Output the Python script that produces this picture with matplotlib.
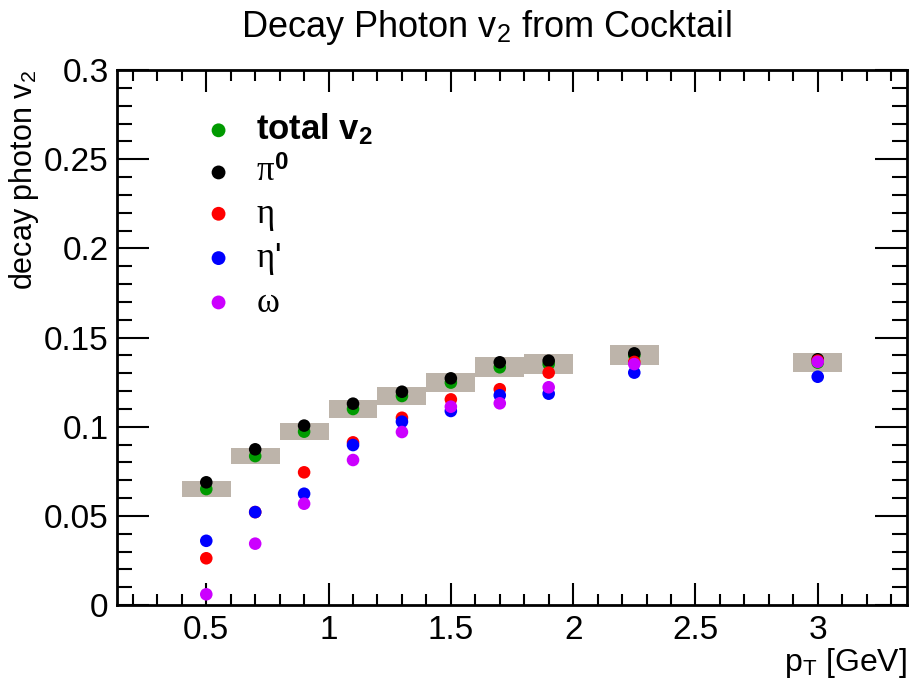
import numpy as np
import matplotlib
matplotlib.use('Agg')
import matplotlib.pyplot as plt
from matplotlib.ticker import MultipleLocator

plt.rcParams['font.family'] = ['Liberation Sans', 'DejaVu Sans']
plt.rcParams['mathtext.fontset'] = 'custom'
plt.rcParams['mathtext.rm'] = 'Liberation Sans'
plt.rcParams['mathtext.it'] = 'Liberation Serif'
plt.rcParams['mathtext.bf'] = 'Liberation Sans:bold'

# pT bin centres [GeV]
pt = [0.5, 0.7, 0.9, 1.1, 1.3, 1.5, 1.7, 1.9, 2.25, 3.0]
# decay photon v2 per parent
v2_total = [0.0650, 0.0835, 0.0972, 0.1099, 0.1172, 0.1247, 0.1333, 0.1351, 0.1400, 0.1359]
v2_pi0   = [0.0688, 0.0873, 0.1006, 0.1129, 0.1196, 0.1271, 0.1361, 0.1370, 0.1411, 0.1378]
v2_eta   = [0.0262, 0.0521, 0.0744, 0.0912, 0.1050, 0.1153, 0.1210, 0.1303, 0.1363, 0.1370]
v2_etap  = [0.0360, 0.0521, 0.0624, 0.0897, 0.1028, 0.1088, 0.1176, 0.1185, 0.1303, 0.1280]
v2_omega = [0.0060, 0.0344, 0.0568, 0.0813, 0.0970, 0.1112, 0.1131, 0.1221, 0.1351, 0.1364]
# systematic band on total (half height)
sys_err = [0.0044, 0.0047, 0.0047, 0.0049, 0.0050, 0.0052, 0.0055, 0.0055, 0.0056, 0.0052]
bin_w = 0.2

fig = plt.figure(figsize=(9.12, 6.83), dpi=100)
ax = fig.add_axes([0.1283, 0.1142, 0.8662, 0.7833])

lo = np.array(v2_total) - np.array(sys_err)
ax.bar(pt, 2 * np.array(sys_err), bottom=lo, width=bin_w, color='#bdb4aa', zorder=1)

ms = 82
series = [
    (v2_total, '#009a00', r'$\mathbf{total\ v_2}$'),
    (v2_pi0, 'black', r'$\pi^{\mathbf{0}}$'),
    (v2_eta, '#ff0000', r'$\eta$'),
    (v2_etap, '#0000ff', r"$\eta$'"),
    (v2_omega, '#cc00ff', r'$\omega$'),
]
for i, (vals, col, lab) in enumerate(series):
    ax.scatter(pt, vals, s=ms, color=col, edgecolors='none', label=lab, zorder=3 + i)

ax.set_xlim(0.135, 3.365)
ax.set_ylim(0, 0.3)
ax.xaxis.set_minor_locator(MultipleLocator(0.1))
ax.yaxis.set_minor_locator(MultipleLocator(0.01))
ax.set_xticks([0.5, 1, 1.5, 2, 2.5, 3])
ax.set_xticklabels(['0.5', '1', '1.5', '2', '2.5', '3'])
ax.set_yticks([0, 0.05, 0.1, 0.15, 0.2, 0.25, 0.3])
ax.set_yticklabels(['0', '0.05', '0.1', '0.15', '0.2', '0.25', '0.3'])

ax.tick_params(axis='x', which='major', direction='in', length=16, width=1.5,
               top=True, labelsize=24, pad=7)
ax.tick_params(axis='x', which='minor', direction='in', length=8, width=1.5, top=True)
ax.tick_params(axis='y', which='major', direction='in', length=23, width=1.5,
               right=True, labelsize=24, pad=6)
ax.tick_params(axis='y', which='minor', direction='in', length=11, width=1.5, right=True)
for sp in ax.spines.values():
    sp.set_linewidth(2)

ax.set_title(r'Decay Photon v$_2$ from Cocktail', fontsize=26, pad=24, x=0.468)
ax.set_ylabel(r'decay photon v$_2$', fontsize=22, loc='top', labelpad=2)
ax.set_xlabel(r'p$_\mathrm{T}$ [GeV]', fontsize=23, loc='right', labelpad=0)

ax.legend(loc='upper left', bbox_to_anchor=(0.067, 0.981), frameon=False,
          fontsize=25, labelspacing=0.24, handletextpad=0.58, scatterpoints=1,
          handlelength=1.0, markerscale=1.1)

fig.savefig('out.png', dpi=100)
